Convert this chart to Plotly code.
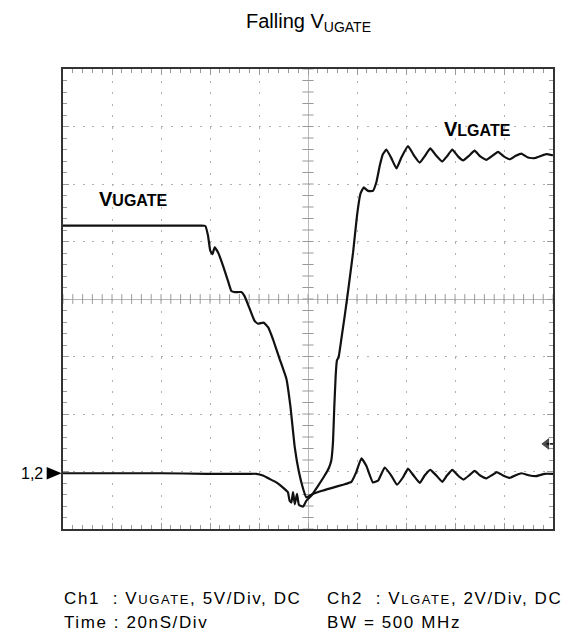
import numpy as np
import plotly.graph_objects as go

# Scope capture: time in ns (20 ns/div), vertical position in screen divisions
ugate_t = [-100, -70, -44.0, -41.9, -40.8, -39.9, -39.0, -38.1, -36.7, -34.7, -32.7, -31.3, -29.9, -27.2,
           -25.9, -23.8, -21.8, -20.4, -18.1, -16.3, -14.3, -11.6, -8.8, -7.2, -5.4, -3.7, -2.0, -0.7,
           2.0, 6.1, 10.2, 14.3, 17.7, 19.7, 21.8, 23.8, 26.5, 28.6, 31.3, 34.0, 36.3, 38.8, 40.8,
           43.1, 45.6, 47.6, 49.9, 52.4, 54.8, 56.7, 58.9, 61.2, 63.5, 66.0, 68.0, 70.3, 72.8,
           75.2, 77.1, 79.6, 82.3, 85.0, 87.1, 90.5, 93.2, 96.6, 100]
ugate_v = [1.275, 1.275, 1.275, 1.27, 1.10, 0.84, 0.78, 0.90, 0.81, 0.58, 0.32, 0.14, 0.12, 0.12,
           0.05, -0.17, -0.38, -0.43, -0.41, -0.49, -0.70, -1.04, -1.39, -1.86, -2.58, -3.01, -3.30, -3.45,
           -3.39, -3.33, -3.28, -3.23, -3.18, -3.01, -2.77, -2.90, -3.19, -3.16, -2.93, -3.07, -3.23,
           -3.10, -2.95, -3.07, -3.20, -3.07, -2.97, -3.07, -3.18, -3.07, -2.97, -3.07, -3.14, -3.06,
           -2.99, -3.07, -3.12, -3.06, -3.01, -3.07, -3.11, -3.06, -3.03, -3.07, -3.08, -3.04, -3.04]

lgate_t = [-100, -60, -41.5, -24.0, -21.1, -18.4, -15.6, -12.9, -10.2, -8.2, -7.5, -6.8, -6.1, -5.4, -4.5,
           -3.7, -2.0, -0.7, 1.4, 4.1, 6.8, 8.6, 9.5, 10.2, 10.7, 11.3, 11.8, 12.5, 13.6, 15.0,
           16.3, 18.4, 20.0, 21.4, 22.7, 24.5, 26.5, 27.9, 29.3, 30.6, 32.0, 34.0, 36.1, 38.1,
           40.8, 43.5, 45.6, 47.6, 49.9, 52.4, 54.8, 56.7, 58.9, 61.2, 63.3, 65.7, 68.0, 70.3,
           72.8, 75.2, 77.6, 79.9, 82.3, 84.8, 87.1, 89.8, 92.5, 95.2, 97.3, 100]
lgate_v = [-3.03, -3.03, -3.04, -3.04, -3.04, -3.07, -3.13, -3.19, -3.28, -3.36, -3.51, -3.54, -3.36, -3.57, -3.39,
           -3.58, -3.61, -3.51, -3.42, -3.25, -3.07, -2.93, -2.81, -2.49, -1.91, -1.33, -1.07, -1.01,
           -0.70, -0.29, 0.12, 0.81, 1.45, 1.83, 1.94, 1.88, 1.88, 2.03, 2.32, 2.52, 2.60, 2.45,
           2.27, 2.46, 2.66, 2.48, 2.37, 2.48, 2.62, 2.49, 2.39, 2.48, 2.60, 2.48, 2.41, 2.49, 2.58,
           2.48, 2.42, 2.49, 2.56, 2.48, 2.43, 2.49, 2.53, 2.46, 2.45, 2.49, 2.52, 2.50]

ground_level = -3.03   # "1,2" ground marker
trigger_level = -2.52  # trigger level marker on the right edge

grid_col = "#9a9a9a"
fig = go.Figure()

# center cross tick marks (0.2 div)
cx = np.arange(-100, 100.1, 4)
cy = np.arange(-4, 4.01, 0.2)
fig.add_trace(go.Scatter(x=cx, y=np.zeros_like(cx), mode="markers", hoverinfo="skip",
                         marker=dict(symbol="line-ns", size=7, line=dict(width=1, color=grid_col)),
                         showlegend=False))
fig.add_trace(go.Scatter(x=np.zeros_like(cy), y=cy, mode="markers", hoverinfo="skip",
                         marker=dict(symbol="line-ew", size=8, line=dict(width=1, color=grid_col)),
                         showlegend=False))

for t, v in [(ugate_t, ugate_v), (lgate_t, lgate_v)]:
    fig.add_trace(go.Scatter(x=t, y=v, mode="lines",
                             line=dict(color="#111111", width=2.2, shape="spline", smoothing=0.35),
                             showlegend=False))

# trigger marker
fig.add_trace(go.Scatter(x=[97.4, 100], y=[trigger_level, trigger_level], mode="lines+markers",
                         line=dict(color="black", width=1.5),
                         marker=dict(symbol="triangle-left", size=[12, 0], color="black"),
                         showlegend=False))

axis_common = dict(showgrid=True, gridcolor="#b0b0b0", gridwidth=1,
                   zeroline=True, zerolinecolor="#b8b8b8", zerolinewidth=1,
                   showline=True, linecolor="#333333", linewidth=2, mirror="ticks",
                   ticks="inside", ticklen=6, tickcolor=grid_col, showticklabels=False)

fig.update_xaxes(range=[-100, 100], dtick=20, griddash="2px,9.5px",
                 minor=dict(dtick=4, ticks="inside", ticklen=4, tickcolor=grid_col, showgrid=False),
                 **axis_common)
fig.update_yaxes(range=[-4, 4], dtick=1, griddash="2px,7.8px",
                 minor=dict(dtick=0.2, ticks="inside", ticklen=4, tickcolor=grid_col, showgrid=False),
                 **axis_common)

# ground pointer triangle left of the frame
fig.add_shape(type="path", xref="paper", yref="y", fillcolor="black", line=dict(width=0),
              path="M -0.0333,{a} L -0.0027,{b} L -0.0333,{c} Z".format(
                  a=ground_level + 0.11, b=ground_level, c=ground_level - 0.11))

annotations = [
    dict(text="Falling V<sub>UGATE</sub>", xref="paper", yref="paper", x=0.5, y=1.1,
         xanchor="center", yanchor="middle", showarrow=False,
         font=dict(size=20, color="black")),
    dict(text="<b>V<span style='font-size:16px'>UGATE</span></b>", x=-86.3, y=1.74,
         xanchor="left", yanchor="middle", showarrow=False, font=dict(size=20, color="black")),
    dict(text="<b>V<span style='font-size:16px'>LGATE</span></b>", x=54.8, y=2.96,
         xanchor="left", yanchor="middle", showarrow=False, font=dict(size=20, color="black")),
    dict(text="1,2", xref="paper", x=-0.037, y=ground_level, xanchor="right", yanchor="middle",
         showarrow=False, font=dict(size=16, color="black")),
]

cap = "<span style='letter-spacing:1.6px'>{}</span>"
sc = "<span style='font-size:13px'>{}</span>"
notes = [
    (-0.003, -0.150, "Ch1&nbsp; : V" + sc.format("UGATE") + ", 5V/Div, DC"),
    (0.535, -0.150, "Ch2&nbsp; : V" + sc.format("LGATE") + ", 2V/Div, DC"),
    (-0.003, -0.204, "Time : 20nS/Div"),
    (0.535, -0.204, "BW = 500 MHz"),
]
for x, y, txt in notes:
    annotations.append(dict(text=cap.format(txt), xref="paper", yref="paper", x=x, y=y,
                            xanchor="left", yanchor="middle", showarrow=False,
                            font=dict(size=17, color="black")))

# page body adds an 8px offset, so the figure is 8px smaller with shifted margins
fig.update_layout(width=566, height=626, margin=dict(l=55, r=21, t=61, b=105),
                  paper_bgcolor="white", plot_bgcolor="white",
                  font=dict(family="Liberation Sans, Arial, sans-serif"),
                  annotations=annotations)

fig.write_html("out.html")
